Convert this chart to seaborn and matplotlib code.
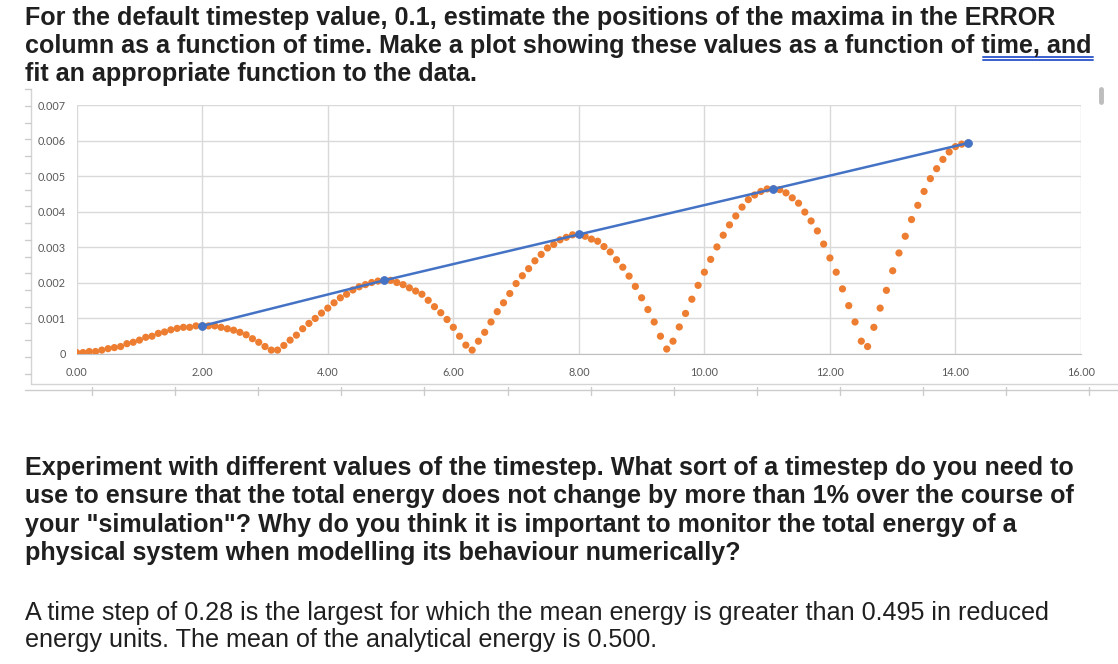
import numpy as np
import pandas as pd
import matplotlib
matplotlib.use("Agg")
import matplotlib.pyplot as plt
import seaborn as sns
from matplotlib.lines import Line2D

# ERROR column, timestep 0.1
time = np.round(np.arange(0, 14.25, 0.1), 1)
error = [
    0.00004, 0.00004, 0.00007, 0.00007, 0.00011, 0.00015, 0.00018, 0.00021, 0.00029, 0.00033,
    0.00039, 0.00047, 0.00050, 0.00058, 0.00062, 0.00068, 0.00072, 0.00075, 0.00075, 0.00079,
    0.00079, 0.00079, 0.00079, 0.00075, 0.00071, 0.00067, 0.00061, 0.00054, 0.00043, 0.00033,
    0.00021, 0.00011, 0.00011, 0.00024, 0.00039, 0.00053, 0.00071, 0.00086, 0.00100, 0.00115,
    0.00129, 0.00144, 0.00158, 0.00168, 0.00180, 0.00189, 0.00195, 0.00201, 0.00205, 0.00207,
    0.00207, 0.00201, 0.00195, 0.00186, 0.00177, 0.00168, 0.00151, 0.00133, 0.00116, 0.00097,
    0.00075, 0.00050, 0.00025, 0.00011, 0.00036, 0.00061, 0.00090, 0.00119, 0.00144, 0.00170,
    0.00198, 0.00220, 0.00240, 0.00262, 0.00280, 0.00298, 0.00308, 0.00321, 0.00328, 0.00335,
    0.00336, 0.00331, 0.00323, 0.00317, 0.00302, 0.00287, 0.00265, 0.00244, 0.00219, 0.00190,
    0.00158, 0.00125, 0.00090, 0.00050, 0.00014, 0.00036, 0.00076, 0.00114, 0.00154, 0.00193,
    0.00230, 0.00266, 0.00301, 0.00334, 0.00363, 0.00388, 0.00413, 0.00434, 0.00447, 0.00457,
    0.00464, 0.00464, 0.00462, 0.00453, 0.00439, 0.00424, 0.00399, 0.00374, 0.00346, 0.00309,
    0.00270, 0.00230, 0.00183, 0.00136, 0.00090, 0.00036, 0.00021, 0.00075, 0.00129, 0.00179,
    0.00234, 0.00284, 0.00331, 0.00378, 0.00418, 0.00457, 0.00493, 0.00521, 0.00547, 0.00568,
    0.00583, 0.00590, 0.00593,
]

# maxima picked out by hand
max_time = [2.0, 4.9, 8.0, 11.1, 14.2]
max_error = [0.00079, 0.00207, 0.00336, 0.00464, 0.00593]

x_ticks = [0, 2, 4, 6, 8, 10, 12, 14, 16]
y_ticks = [0, 0.001, 0.002, 0.003, 0.004, 0.005, 0.006, 0.007]
y_labels = ["0", "0.001", "0.002", "0.003", "0.004", "0.005", "0.006", "0.007"]

top_lines = [
    "For the default timestep value, 0.1, estimate the positions of the maxima in the ERROR",
    "column as a function of time. Make a plot showing these values as a function of time, and",
    "fit an appropriate function to the data.",
]
question_lines = [
    "Experiment with different values of the timestep. What sort of a timestep do you need to",
    "use to ensure that the total energy does not change by more than 1% over the course of",
    'your "simulation"? Why do you think it is important to monitor the total energy of a',
    "physical system when modelling its behaviour numerically?",
]
answer_lines = [
    "A time step of 0.28 is the largest for which the mean energy is greater than 0.495 in reduced",
    "energy units. The mean of the analytical energy is 0.500.",
]

errors = pd.DataFrame({"time": time, "error": error})
maxima = pd.DataFrame({"time": max_time, "error": max_error})

sns.set_style("white")
plt.rcParams["font.family"] = ["Liberation Sans", "DejaVu Sans"]

W, H = 1118, 664
fig = plt.figure(figsize=(W / 100, H / 100), dpi=100)


def fx(x):
    return x / W


def fy(y):
    return 1 - y / H


def line(xs, ys, color="#d4d4d4", lw=1.0):
    fig.add_artist(Line2D([fx(v) for v in xs], [fy(v) for v in ys],
                          transform=fig.transFigure, color=color, lw=lw))


# document text
text_color = "#1f1f1f"
fs = 18.1
for i, s in enumerate(top_lines):
    fig.text(fx(25), fy(18 + 28 * i), s, fontsize=fs, fontweight="bold",
             color=text_color, va="center", ha="left")
for i, s in enumerate(question_lines):
    fig.text(fx(25), fy(468 + 28.3 * i), s, fontsize=fs, fontweight="bold",
             color=text_color, va="center", ha="left")
for i, s in enumerate(answer_lines):
    fig.text(fx(25), fy(613 + 27.5 * i), s, fontsize=fs,
             color=text_color, va="center", ha="left")

# spell-check style underline under "time, and"
line([983, 1093], [57, 57], color="#3a5fcd", lw=1.4)
line([983, 1093], [60, 60], color="#3a5fcd", lw=1.4)

# chart frame and ruler bits of the page
line([31, 31], [89, 384])
line([31, W], [384, 384])
for k in range(18):
    yy = 89 + 16.75 * k
    line([25, 31], [yy, yy], color="#cccccc")
line([25, W], [390, 390], color="#cccccc")
for k in range(13):
    xx = 92 + 83.1 * k
    line([xx, xx], [387, 395], color="#cccccc")
line([1101, 1101], [89, 102], color="#bdbdbd", lw=3.5)

# chart
ax = fig.add_axes([fx(76.7), fy(354), fx(1081) - fx(76.7), fy(105) - fy(354)])
sns.scatterplot(data=errors, x="time", y="error", ax=ax, color="#ed7d31",
                s=27, edgecolor="none", zorder=3)
sns.lineplot(data=maxima, x="time", y="error", ax=ax, color="#4472c4",
             lw=1.8, marker="o", markersize=5.5, markeredgecolor="#4472c4", zorder=4)

ax.set_xlim(0, 16)
ax.set_ylim(0, 0.007)
ax.set_xticks(x_ticks)
ax.set_xticklabels([f"{v:.2f}" for v in x_ticks])
ax.set_yticks(y_ticks)
ax.set_yticklabels(y_labels)
ax.grid(True, color="#d9d9d9", lw=1.0)
ax.set_axisbelow(True)
for side in ["top", "right", "left"]:
    ax.spines[side].set_visible(False)
ax.spines["bottom"].set_color("#bfbfbf")
ax.tick_params(axis="both", length=0, labelsize=7.8, labelcolor="#595959")
ax.tick_params(axis="y", pad=8)
ax.tick_params(axis="x", pad=9)
for lab in ax.get_xticklabels() + ax.get_yticklabels():
    lab.set_fontfamily(["Lato", "DejaVu Sans"])
ax.set_xlabel("")
ax.set_ylabel("")
ax.patch.set_alpha(0)

fig.savefig("out.png", dpi=100)
